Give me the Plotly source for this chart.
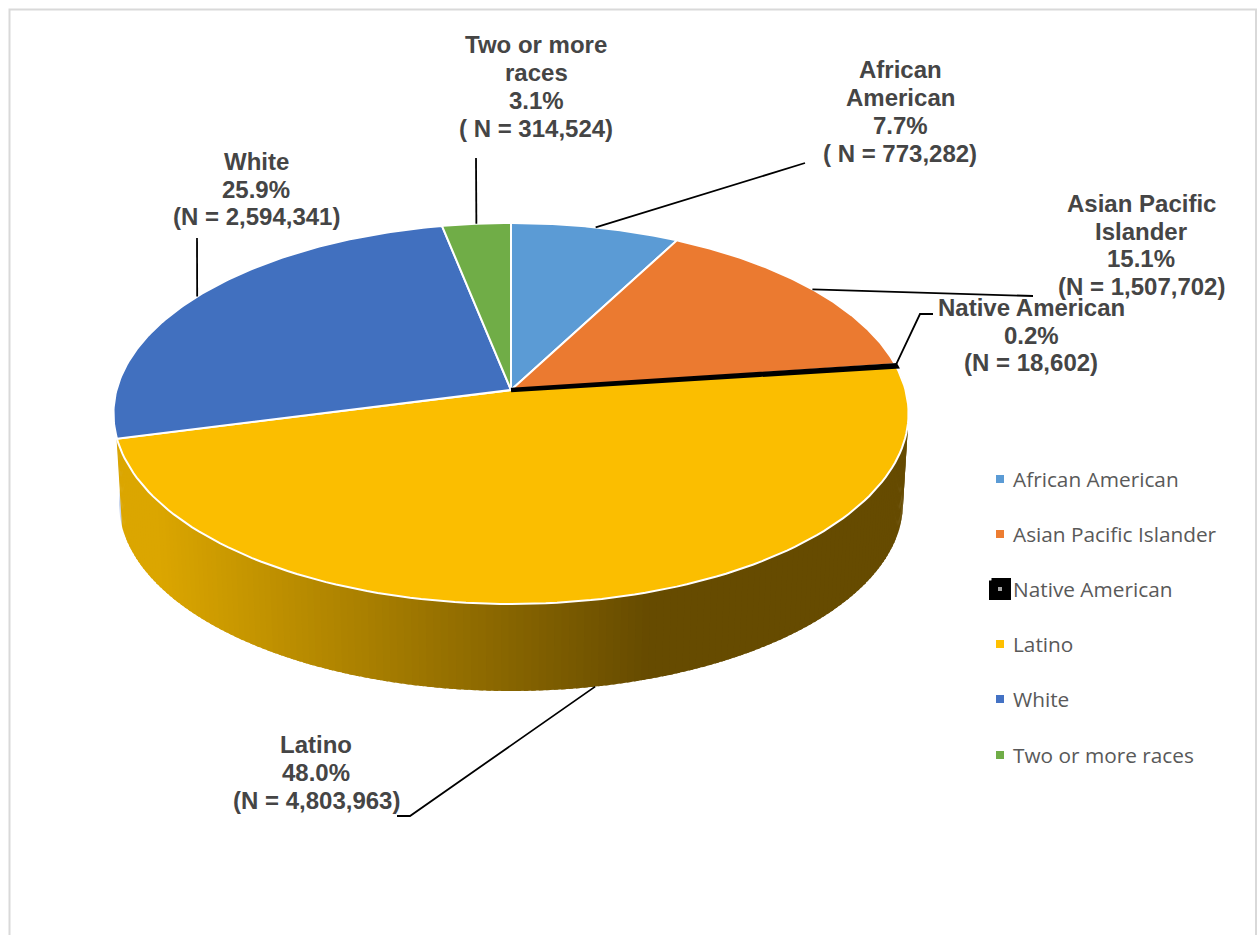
import numpy as np
import plotly.graph_objects as go

# Students by race and ethnicity
categories = ["African American", "Asian Pacific Islander", "Native American",
              "Latino", "White", "Two or more races"]
label_names = [["African", "American"], ["Asian Pacific", "Islander"], ["Native American"],
               ["Latino"], ["White"], ["Two or more", "races"]]
counts = [773282, 1507702, 18602, 4803963, 2594341, 314524]
count_prefixes = ["( N", "(N", "(N", "(N", "(N", "( N"]
colors = ["#5B9BD5", "#ED7D31", "#A5A5A5", "#FFC000", "#4472C4", "#70AD47"]
top_colors = ["#5B9BD5", "#EB7A30", "#000000", "#FBBE00", "#4170BF", "#70AD47"]

# Label centres and leader-line elbows on the 1257x935 pixel axes
label_x = [900, 1141, 1031, 316, 256, 536]
label_y = [111.5, 245, 335, 772.5, 189, 86.5]
leader_elbows = [
    [(805, 163)],
    [(1033, 296)],
    [(920, 314), (933, 314)],
    [(410, 816), (397, 816)],
    [(197, 238)],
    [(476, 158)],
]
legend_y = [479, 534, 589, 644, 699, 755]

# Perspective pie parameters
CX, CY = 511.0, 390.0
RX, RY = 394.5, 187.6
K = 0.1233
BASE_DY, BASE_SCALE = 90.0, 0.986
LINE_STEP = 27.7


def project(theta_deg, base=False, radius=1.0):
    """Map a clockwise-from-north pie angle to pixel coordinates."""
    t = np.radians(theta_deg)
    u, v = radius * np.sin(t), radius * np.cos(t)
    w = 1.0 / (1.0 + K * v)
    s = BASE_SCALE if base else 1.0
    dy = BASE_DY if base else 0.0
    return CX + RX * u * w * s, CY + dy - RY * v * w * s


total = sum(counts)
shares = [c / total for c in counts]
edges = np.concatenate([[0.0], np.cumsum(shares)]) * 360.0
mids = (edges[:-1] + edges[1:]) / 2.0

fig = go.Figure()


def side_color(x):
    f = float(np.clip((x - 160.0) / (650.0 - 160.0), 0.0, 1.0))
    start, end = (219, 166, 0), (102, 75, 0)
    r, g, b = (round(a + (e - a) * f) for a, e in zip(start, end))
    return f"rgb({r},{g},{b})"


# Thin sliver of the White slice's wall on the far left
white_i = categories.index("White")
wall = np.linspace(edges[white_i], edges[white_i] + 25.0, 30)
tx, ty = project(wall)
bx, by = project(wall[::-1], base=True)
fig.add_trace(go.Scatter(x=np.r_[tx, bx], y=np.r_[ty, by], mode="lines", fill="toself",
                         fillcolor="#C9D6EE", line=dict(width=0), hoverinfo="skip",
                         showlegend=False))

# Latino wall, split into strips so the shading can follow x
lat_i = categories.index("Latino")
strip_edges = np.linspace(edges[lat_i] - 2.0, edges[lat_i + 1], 181)
for a0, a1 in zip(strip_edges[:-1][::-1], strip_edges[1:][::-1]):
    seg = np.linspace(a0, a1 + 0.6, 4)
    tx, ty = project(seg)
    bx, by = project(seg[::-1], base=True)
    xs, ys = np.r_[tx, bx], np.r_[ty, by]
    fig.add_trace(go.Scatter(x=xs, y=ys, mode="lines", fill="toself",
                             fillcolor=side_color(xs.mean()), line=dict(width=0),
                             hoverinfo="skip", showlegend=False))

# Top faces, with the hairline Native American slice painted last
draw_order = [0, 1, 3, 4, 5, 2]
for i in draw_order:
    arc = np.linspace(edges[i], edges[i + 1], 120)
    ax, ay = project(arc)
    xs = np.r_[CX, ax, CX]
    ys = np.r_[CY, ay, CY]
    outline = "#000000" if categories[i] == "Native American" else "#FFFFFF"
    width = 4.6 if categories[i] == "Native American" else 2
    fig.add_trace(go.Scatter(x=xs, y=ys, mode="lines", fill="toself", name=categories[i],
                             fillcolor=top_colors[i], line=dict(color=outline, width=width),
                             hoverinfo="name", showlegend=False))

# Leader lines run from each slice's mid-angle to its label
for i, elbows in enumerate(leader_elbows):
    sx, sy = project(mids[i], base=categories[i] == "Latino")
    xs = [float(sx)] + [p[0] for p in elbows]
    ys = [float(sy)] + [p[1] for p in elbows]
    fig.add_trace(go.Scatter(x=xs, y=ys, mode="lines", line=dict(color="#000000", width=1.8),
                             hoverinfo="skip", showlegend=False))

# Legend column
LEG_X = 1000
for i, name in enumerate(categories):
    y = legend_y[i]
    if name == "Native American":
        h = 8.5
        fig.add_trace(go.Scatter(x=[LEG_X - h, LEG_X + h, LEG_X + h, LEG_X - h, LEG_X - h],
                                 y=[y - h, y - h, y + h, y + h, y - h],
                                 mode="lines", fill="toself", fillcolor="#000000",
                                 line=dict(color="#000000", width=5), hoverinfo="skip",
                                 showlegend=False))
    size = 4 if name == "Native American" else 8
    fig.add_trace(go.Scatter(x=[LEG_X], y=[y], mode="markers", name=name,
                             marker=dict(symbol="square", size=size, color=colors[i]),
                             hoverinfo="name", showlegend=False))
    fig.add_annotation(x=1010.5, y=y, text=name, showarrow=False, xanchor="left", yanchor="middle",
                       font=dict(family="Open Sans", size=20.8, color="#595959"))

# Data labels, one annotation per line to hold the tight line spacing
for i, name_lines in enumerate(label_names):
    lines = name_lines + [f"{shares[i] * 100:.1f}%", f"{count_prefixes[i]} = {counts[i]:,})"]
    first = label_y[i] - LINE_STEP * (len(lines) - 1) / 2.0
    for j, line in enumerate(lines):
        fig.add_annotation(x=label_x[i], y=first + j * LINE_STEP, text=f"<b>{line}</b>",
                           showarrow=False, xanchor="center", yanchor="middle",
                           font=dict(family="Liberation Sans", size=24, color="#454545"))

fig.update_layout(
    width=1257, height=935, margin=dict(l=0, r=0, t=0, b=0),
    paper_bgcolor="#FFFFFF", plot_bgcolor="#FFFFFF", showlegend=False,
    xaxis=dict(range=[0, 1257], visible=False, fixedrange=True),
    yaxis=dict(range=[935, 0], visible=False, fixedrange=True),
    shapes=[dict(type="rect", x0=9.5, y0=9.5, x1=1256, y1=980,
                 line=dict(color="#D9D9D9", width=2), layer="below")],
)

fig.write_html("out.html")
